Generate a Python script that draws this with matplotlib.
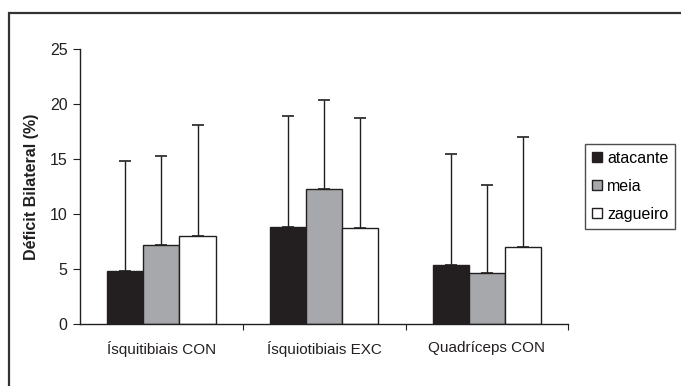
import matplotlib
matplotlib.use("Agg")
import matplotlib.pyplot as plt
from matplotlib.patches import Rectangle, Patch
import numpy as np

categories = ["Ísquitibiais CON", "Ísquiotibiais EXC", "Quadríceps CON"]
series = ["atacante", "meia", "zagueiro"]
means_atacante = [4.85, 8.85, 5.4]
means_meia = [7.2, 12.3, 4.6]
means_zagueiro = [8.0, 8.7, 7.0]
upper_atacante = [14.85, 18.9, 15.4]
upper_meia = [15.3, 20.35, 12.6]
upper_zagueiro = [18.1, 18.75, 17.0]
yticks = [0, 5, 10, 15, 20, 25]

colors = ["#231f20", "#a6a8ab", "#ffffff"]

plt.rcParams['font.family'] = ['Liberation Sans', 'DejaVu Sans']
FS = 11.5

fig = plt.figure(figsize=(6.81, 3.86), dpi=100)
W, H = 681, 386
ax = fig.add_axes([80 / W, 1 - 324 / H, (568.3 - 80) / W, (324 - 48.8) / H])

means = [means_atacante, means_meia, means_zagueiro]
uppers = [upper_atacante, upper_meia, upper_zagueiro]
n = len(series)
w = 1.0 / (n + 1.5)
x = np.arange(len(categories)) + 0.5
for i in range(n):
    xs = x + (i - 1) * w
    m = np.array(means[i])
    u = np.array(uppers[i])
    ax.errorbar(xs, m, yerr=[np.zeros_like(m), u - m], fmt='none', ecolor='#231f20',
                elinewidth=1.0, capsize=4.3, capthick=1.2, zorder=1)
    ax.bar(xs, m, width=w, color=colors[i], edgecolor='#231f20', linewidth=1.0, zorder=2,
           label=series[i])

ax.set_xlim(0, 3)
ax.set_ylim(0, 25)
ax.set_yticks(yticks)
ax.set_yticklabels([str(t) for t in yticks], fontsize=FS, color='#231f20')
ax.set_xticks([1, 2, 3], minor=False)
ax.set_xticklabels([])
ax.set_xticks(x, minor=True)
ax.set_xticklabels(categories, minor=True, fontsize=11, color='#231f20')
ax.tick_params(axis='x', which='minor', length=0, pad=12)
ax.tick_params(axis='x', which='major', length=4, direction='out', color='#231f20')
ax.tick_params(axis='y', length=5, direction='out', color='#231f20', pad=4)
for s in ['top', 'right']:
    ax.spines[s].set_visible(False)
for s in ['left', 'bottom']:
    ax.spines[s].set_color('#231f20')
    ax.spines[s].set_linewidth(1.0)
ax.set_ylabel("Déficit Bilateral (%)", fontsize=FS, fontweight='bold', color='#231f20', labelpad=8)

handles = [Patch(facecolor=colors[i], edgecolor='#231f20', linewidth=1.0) for i in range(n)]
leg = fig.legend(handles, series, loc='upper left', bbox_to_anchor=(585 / W, 1 - 144 / H),
                 frameon=True, fancybox=False, edgecolor='#231f20', fontsize=FS,
                 handlelength=0.62, handleheight=0.62, handletextpad=0.35, labelspacing=0.82,
                 borderpad=0.42, borderaxespad=0)
leg.get_frame().set_linewidth(1.0)

fig.patches.append(Rectangle((8.5 / W, 0 - 0.05), 1.2, 1 - 12.5 / H + 0.05, transform=fig.transFigure,
                             fill=False, edgecolor='#333333', linewidth=1.6, figure=fig))

fig.savefig("out.png", dpi=100)
